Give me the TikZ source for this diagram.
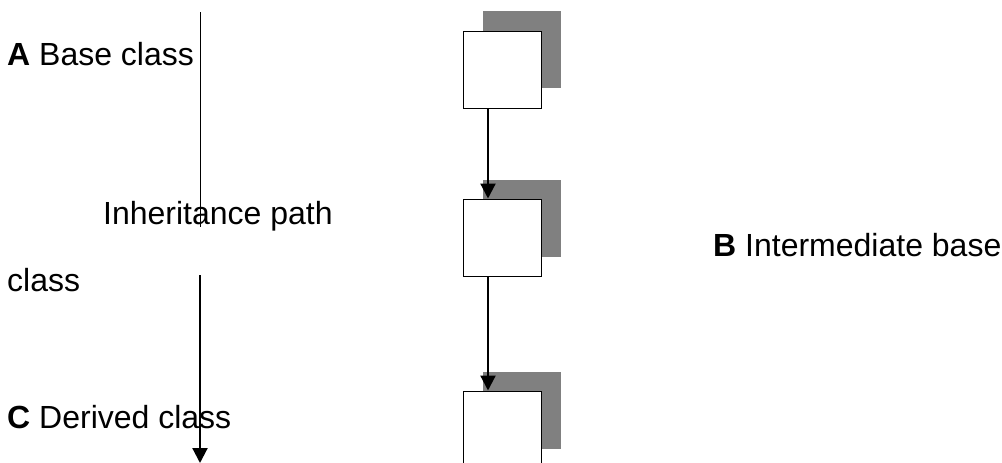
\documentclass[tikz,border=0pt]{standalone}
\usepackage{fontspec}
\setmainfont{Liberation Sans}
\usetikzlibrary{arrows.meta}
\begin{document}
\begin{tikzpicture}[x=1pt,y=-1pt,
  label text/.style={anchor=base west,inner sep=0pt,font=\fontsize{32}{38}\selectfont},
  classbox/.style={draw=black,line width=1pt,fill=white,minimum width=78pt,minimum height=77pt,inner sep=0pt},
  boxshadow/.style={fill=black!50,draw=none,minimum width=78pt,minimum height=77pt,inner sep=0pt},
  flow/.style={line width=2.2pt,-{Triangle[width=15pt,length=15pt]}},
  thinline/.style={line width=1pt}]
\useasboundingbox (0,0) rectangle (1002,463);

% shadows behind the class boxes
\node[boxshadow] (s1) at (522,49.5) {};
\node[boxshadow] (s2) at (522,218.5) {};
\node[boxshadow] (s3) at (522,410.5) {};

% class boxes
\node[classbox] (b1) at (502,69.5) {};
\node[classbox] (b2) at (502,237.5) {};
\node[classbox] (b3) at (502,429.5) {};

% inheritance arrows between boxes
\draw[flow] ([xshift=-14pt]b1.south) -- ([xshift=-14pt]b2.north);
\draw[flow] ([xshift=-14pt]b2.south) -- ([xshift=-14pt]b3.north);

% labels
\node[label text] (ta) at (7,65) {\textbf{A} Base class};
\node[label text] (tp) at (103,224) {Inheritance path};
\node[label text] (tb) at (713,256) {\textbf{B} Intermediate base};
\node[label text] (tc) at (7,291) {class};
\node[label text] (td) at (7,428) {\textbf{C} Derived class};

% inheritance path marker on the left
\coordinate (p1) at (200,12);
\coordinate (p2) at (200,227);
\coordinate (p3) at (200,275);
\coordinate (p4) at (200,463);
\draw[thinline] (p1) -- (p2);
\draw[flow] (p3) -- (p4);
\end{tikzpicture}
\end{document}
